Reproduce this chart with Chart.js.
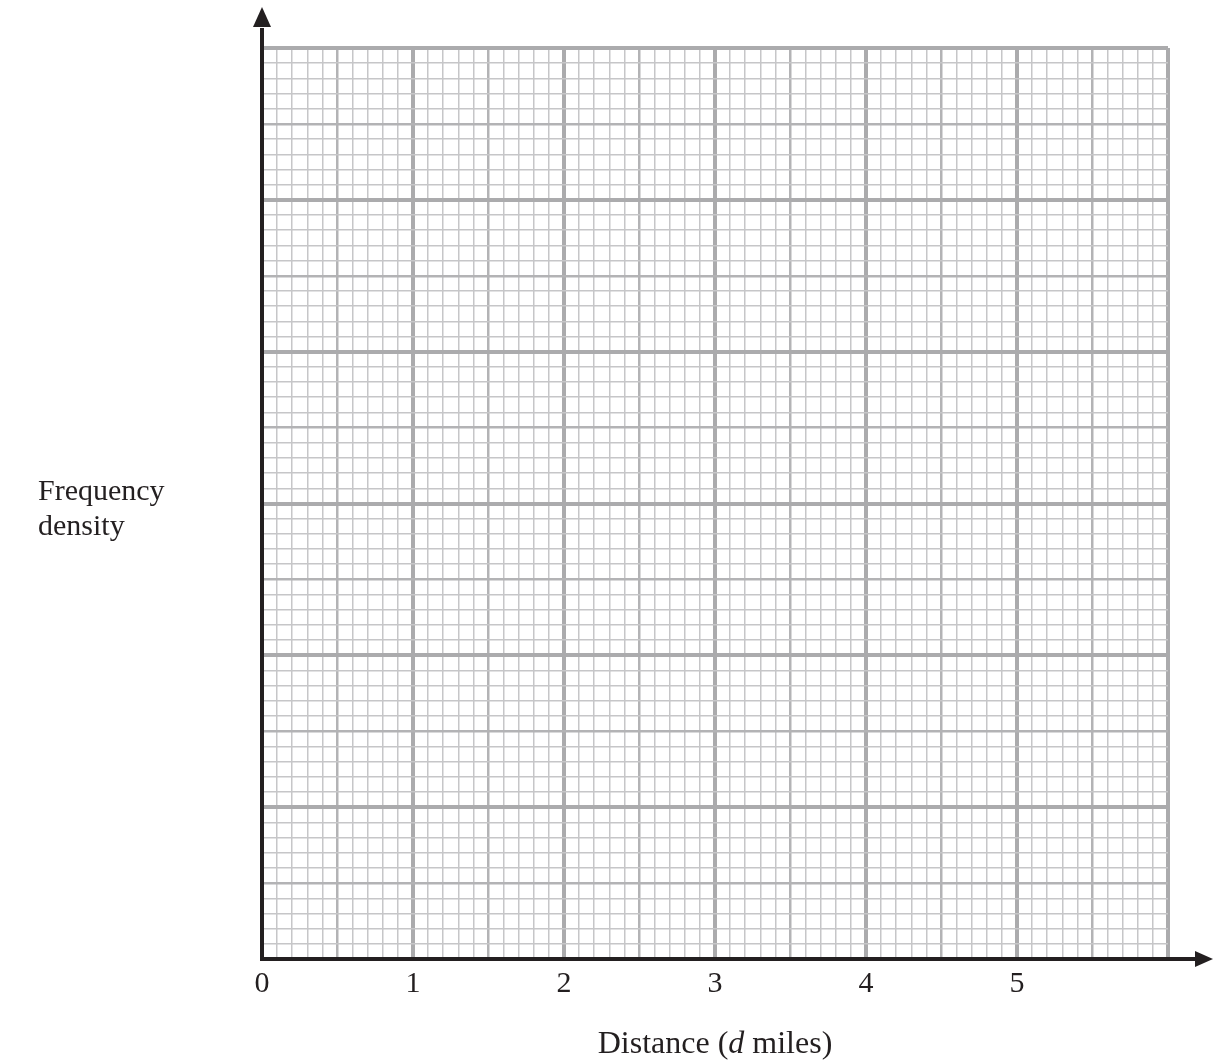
<!DOCTYPE html>
<html>
<head>
<meta charset="utf-8">
<script src="https://cdn.jsdelivr.net/npm/chart.js@4.4.1/dist/chart.umd.min.js"></script>
<style>
  html, body { margin: 0; padding: 0; background: #fff; }
  #wrap { position: relative; width: 1213px; height: 1063px; }
  .lbl { position: absolute; font-family: 'Liberation Serif', 'Times New Roman', serif; color: #231f20; font-size: 30px; }
  #ylbl { left: 38px; top: 472px; line-height: 35px; }
  #xlbl { left: 0; width: 1430px; text-align: center; top: 1024px; font-size: 32px; white-space: nowrap; }
</style>
</head>
<body>
<div id="wrap">
  <canvas id="grid"></canvas>
  <div class="lbl" id="ylbl">Frequency<br>density</div>
  <div class="lbl" id="xlbl">Distance (<i>d</i> miles)</div>
</div>
<script>
// axis ranges (graph paper, nothing plotted yet)
const xMin = 0, xMax = 6;
const yMin = 0, yMax = 6;
const minorStep = 0.1;           // small squares
const xTickLabels = [0, 1, 2, 3, 4, 5];

const INK = '#231f20';

function lineKind(v) {
  if (Math.abs(v - Math.round(v)) < 1e-6) return 'unit';
  if (Math.abs(v * 2 - Math.round(v * 2)) < 1e-6) return 'half';
  return 'minor';
}
const gridWidth = { unit: 4, half: 2.5, minor: 1.5 };
const gridColor = { unit: '#ababad', half: '#b3b3b5', minor: '#c6c6c8' };

const gridOpts = {
  drawTicks: false,
  lineWidth: c => gridWidth[lineKind(c.tick.value)],
  color: c => gridColor[lineKind(c.tick.value)]
};

// black axes with arrow heads, placed from the scales
const axesPlugin = {
  id: 'axes',
  afterDraw(chart) {
    const { ctx, scales: { x, y } } = chart;
    const x0 = x.getPixelForValue(xMin), y0 = y.getPixelForValue(yMin);
    const top = y.getPixelForValue(yMax), right = x.getPixelForValue(xMax);
    ctx.save();
    ctx.strokeStyle = INK; ctx.fillStyle = INK; ctx.lineWidth = 4;
    ctx.beginPath();
    ctx.moveTo(x0, y0 + 2); ctx.lineTo(x0, top - 20);
    ctx.moveTo(x0 - 2, y0); ctx.lineTo(right + 28, y0);
    ctx.stroke();
    ctx.beginPath();
    ctx.moveTo(x0, top - 41); ctx.lineTo(x0 - 9, top - 21); ctx.lineTo(x0 + 9, top - 21); ctx.closePath();
    ctx.fill();
    ctx.beginPath();
    ctx.moveTo(right + 45, y0); ctx.lineTo(right + 27, y0 - 8); ctx.lineTo(right + 27, y0 + 8); ctx.closePath();
    ctx.fill();
    ctx.restore();
  }
};

new Chart(document.getElementById('grid'), {
  type: 'scatter',
  data: { datasets: [{ data: [] }] },
  plugins: [axesPlugin],
  options: {
    responsive: true,
    maintainAspectRatio: false,
    animation: false,
    layout: { padding: { top: 48, right: 45, left: 0, bottom: 0 } },
    plugins: { legend: { display: false }, tooltip: { enabled: false } },
    scales: {
      x: {
        type: 'linear', min: xMin, max: xMax,
        border: { display: false },
        grid: gridOpts,
        afterFit: s => { s.height = 104; },
        ticks: {
          stepSize: minorStep, maxTicksLimit: 200, autoSkip: false, maxRotation: 0,
          padding: 7, color: INK,
          font: { family: "'Liberation Serif', 'Times New Roman', serif", size: 30 },
          callback: v => {
            const r = Math.round(v);
            return Math.abs(v - r) < 1e-6 && xTickLabels.includes(r) ? String(r) : '';
          }
        }
      },
      y: {
        type: 'linear', min: yMin, max: yMax,
        border: { display: false },
        grid: gridOpts,
        afterFit: s => { s.width = 262; },
        ticks: { stepSize: minorStep, maxTicksLimit: 200, autoSkip: false, display: false }
      }
    }
  }
});
</script>
</body>
</html>
